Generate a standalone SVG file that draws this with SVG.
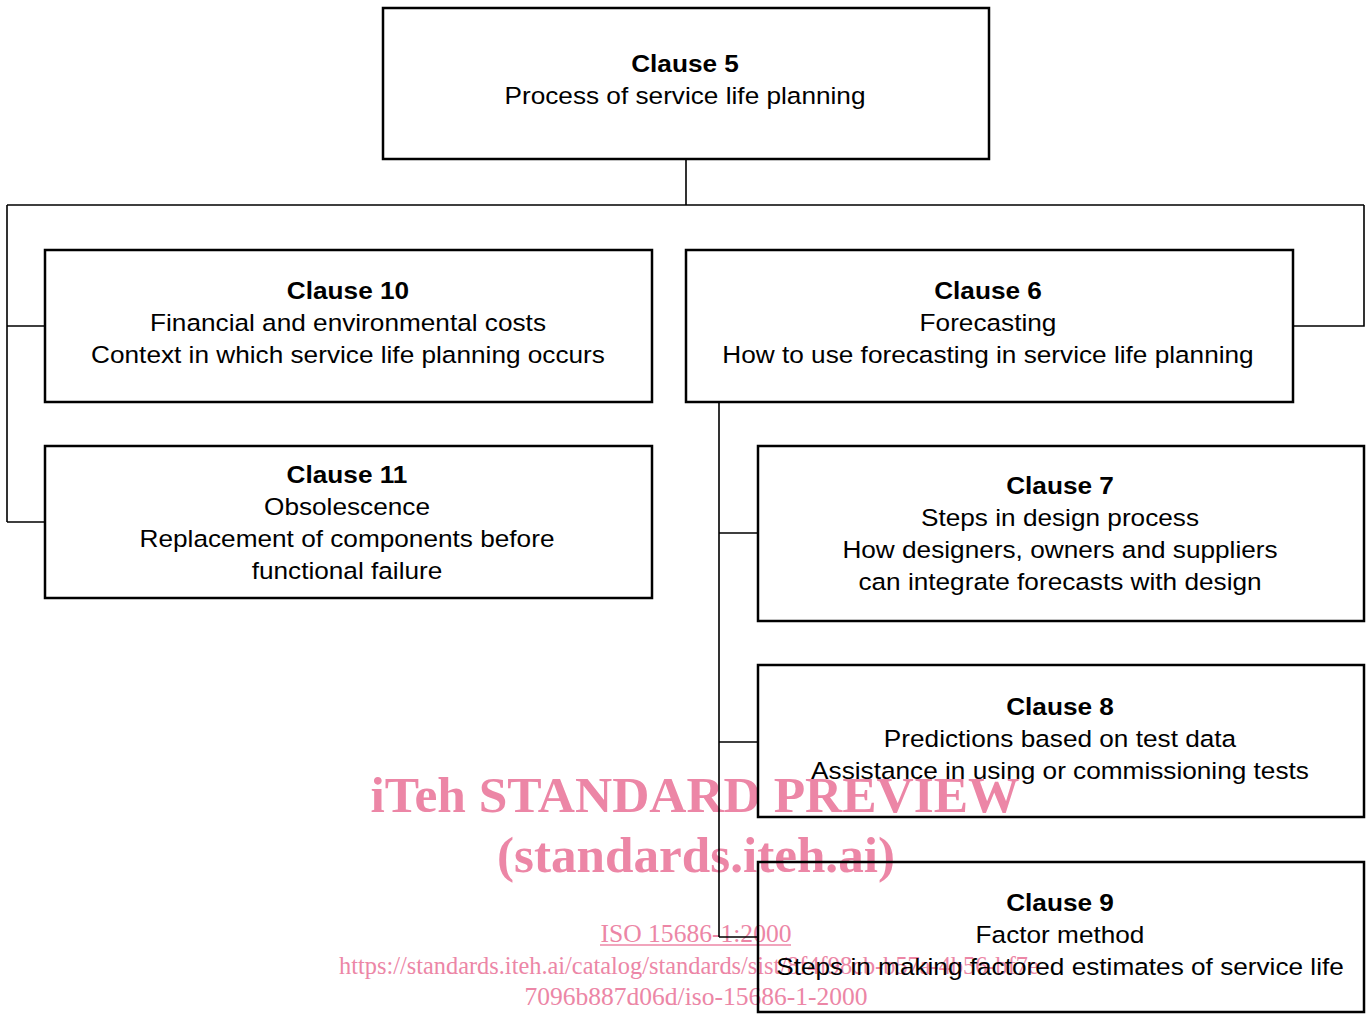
<svg xmlns="http://www.w3.org/2000/svg" width="1369" height="1014" viewBox="0 0 1369 1014">
<style>
.box{fill:none;stroke:#000;stroke-width:2.5}
.con{fill:none;stroke:#000;stroke-width:1.6}
.t{font-family:"Liberation Sans",Arial,sans-serif;font-size:23.5px;fill:#000;text-anchor:middle}
.b{font-weight:bold}
.wm{font-family:"Liberation Serif","Times New Roman",serif;fill:#ec86a6;text-anchor:middle}
</style>
<rect width="1369" height="1014" fill="#fff"/>
<g id="watermark">
<text class="wm" x="695" y="812" font-size="50" font-weight="bold" textLength="649" lengthAdjust="spacingAndGlyphs">iTeh STANDARD PREVIEW</text>
<text class="wm" x="696" y="872" font-size="50" font-weight="bold" textLength="398" lengthAdjust="spacingAndGlyphs">(standards.iteh.ai)</text>
<text class="wm" x="696" y="942" font-size="25" textLength="191" lengthAdjust="spacingAndGlyphs">ISO 15686-1:2000</text>
<line x1="600" y1="945" x2="791" y2="945" stroke="#ec86a6" stroke-width="1.5"/>
<text class="wm" x="693" y="974" font-size="25" textLength="708" lengthAdjust="spacingAndGlyphs">https://standards.iteh.ai/catalog/standards/sist/8f4f98cb-b57a-4b56-bf7e-</text>
<text class="wm" x="696" y="1005" font-size="25" textLength="343" lengthAdjust="spacingAndGlyphs">7096b887d06d/iso-15686-1-2000</text>
</g>
<g id="connectors">
<path class="con" d="M686 159V205M7 205H1364M7 205V522M7 326H45M7 522H45M1364 205V326H1293"/>
<path class="con" d="M719 402V937M719 533H758M719 742H758M719 937H758"/>
</g>
<g id="clause5">
<rect class="box" x="383" y="8" width="606" height="151"/>
<g transform="translate(685 0) scale(1.115 1)">
<text class="t b" x="0" y="72">Clause 5</text>
<text class="t" x="0" y="104">Process of service life planning</text>
</g>
</g>
<g id="clause10">
<rect class="box" x="45" y="250" width="607" height="152"/>
<g transform="translate(348 0) scale(1.115 1)">
<text class="t b" x="0" y="299">Clause 10</text>
<text class="t" x="0" y="331">Financial and environmental costs</text>
<text class="t" x="0" y="363">Context in which service life planning occurs</text>
</g>
</g>
<g id="clause6">
<rect class="box" x="686" y="250" width="607" height="152"/>
<g transform="translate(988 0) scale(1.115 1)">
<text class="t b" x="0" y="299">Clause 6</text>
<text class="t" x="0" y="331">Forecasting</text>
<text class="t" x="0" y="363">How to use forecasting in service life planning</text>
</g>
</g>
<g id="clause11">
<rect class="box" x="45" y="446" width="607" height="152"/>
<g transform="translate(347 0) scale(1.115 1)">
<text class="t b" x="0" y="483">Clause 11</text>
<text class="t" x="0" y="515">Obsolescence</text>
<text class="t" x="0" y="547">Replacement of components before</text>
<text class="t" x="0" y="579">functional failure</text>
</g>
</g>
<g id="clause7">
<rect class="box" x="758" y="446" width="606" height="175"/>
<g transform="translate(1060 0) scale(1.115 1)">
<text class="t b" x="0" y="494">Clause 7</text>
<text class="t" x="0" y="526">Steps in design process</text>
<text class="t" x="0" y="558">How designers, owners and suppliers</text>
<text class="t" x="0" y="590">can integrate forecasts with design</text>
</g>
</g>
<g id="clause8">
<rect class="box" x="758" y="665" width="606" height="152"/>
<g transform="translate(1060 0) scale(1.115 1)">
<text class="t b" x="0" y="715">Clause 8</text>
<text class="t" x="0" y="747">Predictions based on test data</text>
<text class="t" x="0" y="779">Assistance in using or commissioning tests</text>
</g>
</g>
<g id="clause9">
<rect class="box" x="758" y="862" width="606" height="150"/>
<g transform="translate(1060 0) scale(1.115 1)">
<text class="t b" x="0" y="911">Clause 9</text>
<text class="t" x="0" y="943">Factor method</text>
<text class="t" x="0" y="975">Steps in making factored estimates of service life</text>
</g>
</g>
</svg>
